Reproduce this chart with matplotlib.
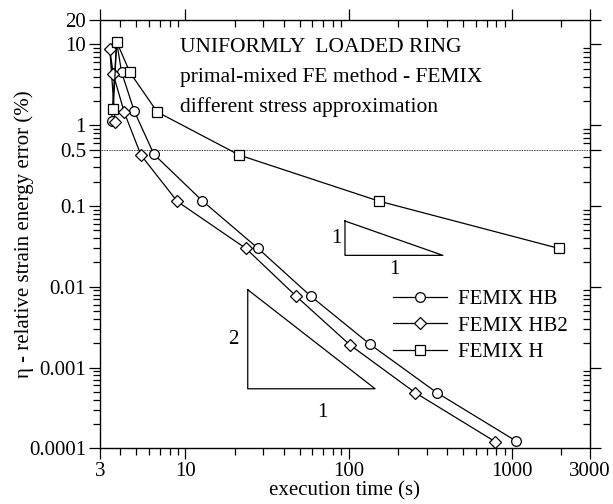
import matplotlib
matplotlib.use("Agg")
import matplotlib.pyplot as plt
from matplotlib.ticker import FixedLocator, FixedFormatter, NullFormatter

plt.rcParams["font.family"] = ["Liberation Serif", "DejaVu Serif"]

# execution time (s) and relative error (%) per series
hb_time = [3.54, 3.80, 4.07, 4.87, 6.42, 12.7, 27.9, 58.5, 135, 346, 1058]
hb_err = [1.12, 10.8, 4.54, 1.49, 0.437, 0.116, 0.0298, 0.00767, 0.00194, 0.000489, 0.000123]

hb2_time = [3.71, 3.45, 3.62, 4.23, 5.35, 8.92, 23.5, 47.6, 102, 255, 787]
hb2_err = [1.10, 8.67, 4.28, 1.44, 0.427, 0.114, 0.0298, 0.00767, 0.0019, 0.000489, 0.000121]

h_time = [3.62, 3.80, 4.58, 6.73, 21.4, 153, 1940]
h_err = [1.57, 10.8, 4.5, 1.46, 0.427, 0.115, 0.0298]

# slope triangles (x corners, y corners)
tri1_x = [94.9, 94.9, 377, 94.9]
tri1_y = [0.0652, 0.0245, 0.0245, 0.0652]
tri2_x = [24.1, 24.1, 145, 24.1]
tri2_y = [0.0092, 0.000546, 0.000546, 0.0092]

xticks = [3, 10, 100, 1000, 3000]
xlabels = ["3", "10", "100", "1000", "3000"]
yticks = [20, 10, 1, 0.5, 0.1, 0.01, 0.001, 0.0001]
ylabels = ["20", "10", "1", "0.5", "0.1", "0.01", "0.001", "0.0001"]

fig = plt.figure(figsize=(6.13, 5.04), dpi=100)
ax = fig.add_axes([0.163, 0.1105, 0.7995, 0.8495])
ax.set_xscale("log")
ax.set_yscale("log")
ax.set_xlim(3, 3000)
ax.set_ylim(0.0001, 20)

ax.axhline(0.5, color="black", lw=0.6, ls=(0, (1, 1)), zorder=1)

style = dict(color="black", lw=0.9, mfc="white", mec="black", mew=0.9)
ax.plot(hb_time, hb_err, marker="o", ms=7, label="FEMIX HB", zorder=3, **style)
ax.plot(hb2_time, hb2_err, marker="D", ms=6, label="FEMIX HB2", zorder=4, **style)
ax.plot(h_time, h_err, marker="s", ms=6.5, label="FEMIX H", zorder=5, **style)

ax.plot(tri1_x, tri1_y, color="black", lw=0.9)
ax.plot(tri2_x, tri2_y, color="black", lw=0.9)
ax.text(84, 0.04, "1", fontsize=15, ha="center", va="center")
ax.text(190, 0.0165, "1", fontsize=15, ha="center", va="center")
ax.text(19.8, 0.0022, "2", fontsize=15, ha="center", va="center")
ax.text(69, 0.00028, "1", fontsize=15, ha="center", va="center")

ax.text(0.163, 0.925, "UNIFORMLY  LOADED RING", transform=ax.transAxes, fontsize=15.5)
ax.text(0.163, 0.855, "primal-mixed FE method - FEMIX", transform=ax.transAxes, fontsize=15.5)
ax.text(0.163, 0.785, "different stress approximation", transform=ax.transAxes, fontsize=15.5)

ax.xaxis.set_major_locator(FixedLocator(xticks))
ax.xaxis.set_major_formatter(FixedFormatter(xlabels))
ax.xaxis.set_minor_formatter(NullFormatter())
ax.yaxis.set_major_locator(FixedLocator(yticks))
ax.yaxis.set_major_formatter(FixedFormatter(ylabels))
ax.yaxis.set_minor_formatter(NullFormatter())

ax.tick_params(which="both", labelsize=15, width=0.9, color="black")
ax.tick_params(which="major", length=8)
ax.tick_params(which="minor", length=5)
ax.tick_params(axis="x", which="both", direction="out", top=True)
ax.tick_params(axis="y", which="both", direction="out", right=True)
# top and right ticks point the same way as the bottom/left ones (down / left)
for t in ax.xaxis.get_major_ticks() + ax.xaxis.get_minor_ticks():
    t.tick2line.set_marker(3)
for t in ax.yaxis.get_major_ticks() + ax.yaxis.get_minor_ticks():
    t.tick2line.set_marker(0)
ax.tick_params(axis="both", which="major", pad=2)
for s in ax.spines.values():
    s.set_linewidth(1.0)

ax.set_xlabel("execution time (s)", fontsize=15, labelpad=0)
ax.set_ylabel("η - relative strain energy error (%)", fontsize=15, labelpad=-4)

ax.legend(loc="upper left", bbox_to_anchor=(0.598, 0.37), frameon=False,
          fontsize=15, handlelength=2.6, handletextpad=0.5, labelspacing=0.32,
          borderpad=0, borderaxespad=0)

fig.savefig("out.png", dpi=100)
